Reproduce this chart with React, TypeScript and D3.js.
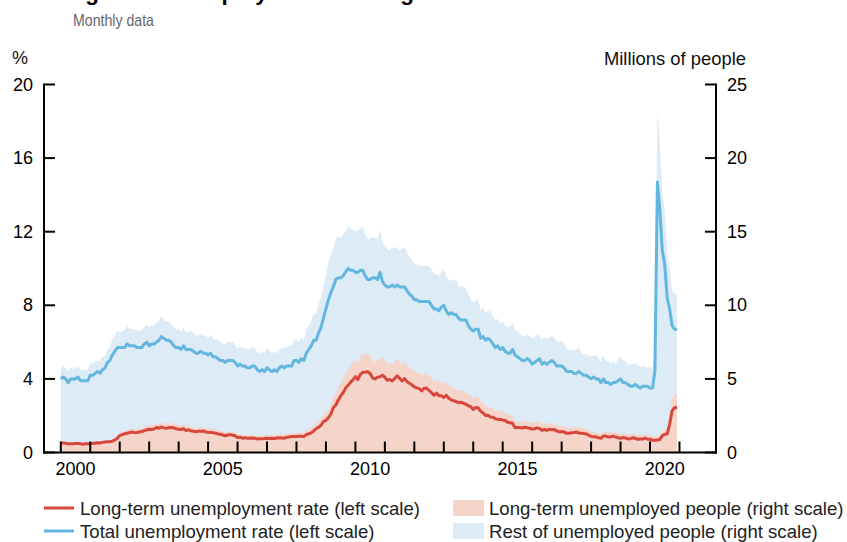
import React from 'react';
import * as d3 from 'd3';

// Monthly data, Jan 2000 – Dec 2020
const START_YEAR = 2000;

// Total unemployment rate, % (left scale)
const unemploymentRate = [
  4.0, 4.1, 4.0, 3.8, 4.0, 4.0, 4.0, 4.1, 3.9, 3.9, 3.9, 3.9,
  4.2, 4.2, 4.3, 4.4, 4.3, 4.5, 4.6, 4.9, 5.0, 5.3, 5.5, 5.7,
  5.7, 5.7, 5.7, 5.9, 5.8, 5.8, 5.8, 5.7, 5.7, 5.7, 5.9, 6.0,
  5.8, 5.9, 5.9, 6.0, 6.1, 6.3, 6.2, 6.1, 6.1, 6.0, 5.8, 5.7,
  5.7, 5.6, 5.8, 5.6, 5.6, 5.6, 5.5, 5.4, 5.4, 5.5, 5.4, 5.4,
  5.3, 5.4, 5.2, 5.2, 5.1, 5.0, 5.0, 4.9, 5.0, 5.0, 5.0, 4.9,
  4.7, 4.8, 4.7, 4.7, 4.6, 4.6, 4.7, 4.7, 4.5, 4.4, 4.5, 4.4,
  4.6, 4.5, 4.4, 4.5, 4.4, 4.6, 4.7, 4.6, 4.7, 4.7, 4.7, 5.0,
  5.0, 4.9, 5.1, 5.0, 5.4, 5.6, 5.8, 6.1, 6.1, 6.5, 6.8, 7.3,
  7.8, 8.3, 8.7, 9.0, 9.4, 9.5, 9.5, 9.6, 9.8, 10.0, 9.9, 9.9,
  9.8, 9.8, 9.9, 9.9, 9.6, 9.4, 9.4, 9.5, 9.5, 9.4, 9.8, 9.3,
  9.1, 9.0, 9.0, 9.1, 9.0, 9.1, 9.0, 9.0, 9.0, 8.8, 8.6, 8.5,
  8.3, 8.3, 8.2, 8.2, 8.2, 8.2, 8.2, 8.0, 7.8, 7.8, 7.7, 7.9,
  8.0, 7.7, 7.5, 7.6, 7.5, 7.5, 7.3, 7.2, 7.2, 7.2, 6.9, 6.7,
  6.6, 6.7, 6.7, 6.2, 6.3, 6.1, 6.2, 6.1, 5.9, 5.7, 5.8, 5.6,
  5.7, 5.5, 5.4, 5.4, 5.6, 5.3, 5.2, 5.1, 5.0, 5.0, 5.1, 5.0,
  4.8, 4.9, 5.0, 5.1, 4.8, 4.9, 4.8, 4.9, 5.0, 4.9, 4.7, 4.7,
  4.7, 4.6, 4.4, 4.4, 4.4, 4.3, 4.3, 4.4, 4.3, 4.2, 4.2, 4.1,
  4.0, 4.1, 4.0, 4.0, 3.8, 4.0, 3.8, 3.8, 3.7, 3.8, 3.8, 3.9,
  4.0, 3.8, 3.8, 3.7, 3.6, 3.6, 3.7, 3.6, 3.5, 3.6, 3.6, 3.6,
  3.5, 3.5, 4.4, 14.7, 13.2, 11.0, 10.2, 8.4, 7.8, 6.9, 6.7, 6.7,
];

// Long-term unemployment rate, % (left scale)
const longTermRate = [
  0.51, 0.51, 0.50, 0.47, 0.48, 0.48, 0.49, 0.49, 0.48, 0.45, 0.47, 0.47,
  0.47, 0.50, 0.50, 0.53, 0.52, 0.55, 0.57, 0.59, 0.58, 0.62, 0.68, 0.77,
  0.92, 0.97, 1.02, 1.05, 1.08, 1.11, 1.08, 1.09, 1.11, 1.14, 1.18, 1.24,
  1.26, 1.25, 1.28, 1.36, 1.32, 1.38, 1.34, 1.31, 1.35, 1.36, 1.34, 1.29,
  1.26, 1.25, 1.29, 1.20, 1.23, 1.18, 1.16, 1.13, 1.15, 1.16, 1.17, 1.12,
  1.10, 1.09, 1.08, 1.05, 1.01, 0.99, 0.95, 0.91, 0.95, 0.97, 0.94, 0.91,
  0.81, 0.83, 0.78, 0.80, 0.78, 0.77, 0.79, 0.77, 0.74, 0.75, 0.75, 0.76,
  0.78, 0.76, 0.78, 0.76, 0.79, 0.80, 0.79, 0.78, 0.83, 0.84, 0.87, 0.87,
  0.87, 0.88, 0.88, 0.87, 0.97, 1.02, 1.06, 1.18, 1.29, 1.37, 1.48, 1.68,
  1.75, 1.89, 2.09, 2.43, 2.58, 2.84, 3.07, 3.25, 3.50, 3.65, 3.81, 3.95,
  4.12, 3.96, 4.23, 4.36, 4.36, 4.39, 4.29, 4.05, 4.00, 4.09, 4.12, 4.20,
  4.09, 3.92, 3.97, 3.89, 4.02, 4.17, 4.03, 3.88, 4.02, 3.85, 3.76, 3.68,
  3.57, 3.51, 3.47, 3.35, 3.49, 3.50, 3.37, 3.25, 3.11, 3.23, 3.09, 3.09,
  2.99, 3.11, 2.95, 2.86, 2.81, 2.77, 2.71, 2.73, 2.68, 2.62, 2.54, 2.49,
  2.34, 2.45, 2.42, 2.25, 2.15, 2.01, 2.03, 1.93, 1.92, 1.83, 1.81, 1.80,
  1.76, 1.74, 1.64, 1.62, 1.59, 1.35, 1.36, 1.36, 1.33, 1.37, 1.35, 1.32,
  1.28, 1.29, 1.34, 1.30, 1.21, 1.25, 1.20, 1.26, 1.24, 1.25, 1.17, 1.12,
  1.14, 1.12, 1.04, 1.04, 1.07, 1.08, 1.11, 1.06, 1.05, 1.03, 1.01, 0.95,
  0.87, 0.86, 0.84, 0.81, 0.77, 0.89, 0.89, 0.84, 0.85, 0.89, 0.84, 0.80,
  0.77, 0.81, 0.79, 0.74, 0.75, 0.80, 0.76, 0.72, 0.73, 0.73, 0.78, 0.72,
  0.72, 0.67, 0.67, 0.68, 0.71, 0.91, 0.99, 1.00, 1.53, 2.27, 2.43, 2.46,
];

// All unemployed people, millions (right scale)
const unemployedMillions = [
  5.71, 5.86, 5.73, 5.48, 5.76, 5.65, 5.75, 5.85, 5.63, 5.53, 5.64, 5.63,
  6.02, 6.09, 6.14, 6.27, 6.23, 6.48, 6.58, 7.04, 7.14, 7.69, 8.00, 8.26,
  8.18, 8.22, 8.30, 8.60, 8.40, 8.39, 8.39, 8.30, 8.25, 8.31, 8.52, 8.64,
  8.52, 8.62, 8.59, 8.84, 8.96, 9.27, 9.01, 8.90, 8.92, 8.73, 8.58, 8.32,
  8.37, 8.17, 8.49, 8.17, 8.21, 8.29, 8.14, 7.99, 7.93, 8.06, 7.93, 7.93,
  7.78, 7.98, 7.74, 7.67, 7.65, 7.52, 7.41, 7.35, 7.55, 7.45, 7.57, 7.28,
  7.06, 7.18, 7.07, 7.12, 6.98, 7.00, 7.18, 7.09, 6.85, 6.73, 6.87, 6.76,
  7.12, 6.93, 6.73, 6.85, 6.77, 6.98, 7.15, 7.07, 7.17, 7.24, 7.24, 7.65,
  7.69, 7.50, 7.82, 7.64, 8.40, 8.58, 8.94, 9.44, 9.49, 10.07, 10.54, 11.29,
  12.06, 12.90, 13.43, 13.85, 14.50, 14.71, 14.60, 14.81, 15.01, 15.35, 15.22, 15.10,
  15.05, 15.11, 15.20, 15.33, 14.85, 14.47, 14.51, 14.65, 14.58, 14.52, 15.08, 14.35,
  14.01, 13.82, 13.74, 13.96, 13.86, 13.96, 13.76, 13.82, 13.95, 13.59, 13.30, 13.09,
  12.80, 12.81, 12.71, 12.65, 12.66, 12.69, 12.66, 12.47, 12.12, 12.12, 12.01, 12.30,
  12.47, 11.95, 11.69, 11.76, 11.65, 11.75, 11.34, 11.28, 11.27, 11.14, 10.79, 10.40,
  10.20, 10.35, 10.38, 9.70, 9.86, 9.46, 9.61, 9.60, 9.26, 8.99, 9.09, 8.72,
  8.90, 8.61, 8.50, 8.53, 8.79, 8.30, 8.25, 8.05, 7.92, 7.93, 7.98, 7.91,
  7.74, 7.85, 8.03, 7.92, 7.63, 7.79, 7.67, 7.85, 7.90, 7.84, 7.50, 7.55,
  7.58, 7.43, 7.04, 6.96, 6.94, 6.95, 7.00, 7.13, 6.79, 6.64, 6.67, 6.63,
  6.53, 6.60, 6.61, 6.40, 6.19, 6.59, 6.21, 6.24, 6.06, 6.14, 6.04, 6.30,
  6.54, 6.26, 6.24, 5.93, 5.99, 5.98, 6.06, 5.98, 5.78, 5.88, 5.81, 5.75,
  5.80, 5.72, 7.19, 23.11, 20.98, 17.70, 16.31, 13.54, 12.54, 11.05, 10.73, 10.74,
];

// Long-term unemployed people, millions (right scale)
const longTermMillions = [
  0.73, 0.73, 0.71, 0.67, 0.69, 0.68, 0.70, 0.70, 0.68, 0.64, 0.67, 0.67,
  0.68, 0.72, 0.73, 0.77, 0.75, 0.80, 0.83, 0.84, 0.83, 0.90, 0.98, 1.11,
  1.33, 1.40, 1.48, 1.52, 1.56, 1.61, 1.57, 1.58, 1.61, 1.65, 1.71, 1.80,
  1.85, 1.84, 1.87, 1.99, 1.93, 2.03, 1.97, 1.93, 1.98, 2.00, 1.96, 1.89,
  1.86, 1.84, 1.90, 1.77, 1.82, 1.73, 1.70, 1.66, 1.70, 1.71, 1.72, 1.65,
  1.64, 1.63, 1.61, 1.56, 1.51, 1.48, 1.42, 1.36, 1.41, 1.45, 1.40, 1.36,
  1.23, 1.25, 1.18, 1.21, 1.18, 1.16, 1.20, 1.16, 1.11, 1.13, 1.13, 1.15,
  1.19, 1.17, 1.19, 1.16, 1.20, 1.22, 1.22, 1.19, 1.27, 1.28, 1.34, 1.33,
  1.34, 1.36, 1.36, 1.35, 1.50, 1.57, 1.64, 1.82, 1.98, 2.12, 2.29, 2.60,
  2.69, 2.91, 3.23, 3.74, 3.98, 4.38, 4.73, 5.00, 5.39, 5.63, 5.87, 6.09,
  6.34, 6.10, 6.50, 6.71, 6.71, 6.76, 6.61, 6.23, 6.16, 6.29, 6.33, 6.46,
  6.28, 6.03, 6.10, 5.98, 6.17, 6.41, 6.19, 5.96, 6.17, 5.91, 5.78, 5.66,
  5.54, 5.44, 5.38, 5.20, 5.41, 5.43, 5.22, 5.04, 4.82, 5.00, 4.79, 4.79,
  4.64, 4.84, 4.58, 4.45, 4.37, 4.30, 4.21, 4.24, 4.16, 4.07, 3.95, 3.87,
  3.65, 3.82, 3.78, 3.51, 3.35, 3.13, 3.17, 3.01, 2.99, 2.86, 2.82, 2.81,
  2.77, 2.74, 2.57, 2.55, 2.50, 2.12, 2.13, 2.14, 2.09, 2.15, 2.12, 2.07,
  2.03, 2.05, 2.14, 2.07, 1.92, 2.00, 1.91, 2.00, 1.98, 1.99, 1.87, 1.78,
  1.83, 1.80, 1.67, 1.66, 1.71, 1.73, 1.78, 1.71, 1.69, 1.65, 1.62, 1.53,
  1.42, 1.39, 1.36, 1.31, 1.24, 1.45, 1.44, 1.37, 1.37, 1.45, 1.36, 1.30,
  1.26, 1.33, 1.29, 1.22, 1.23, 1.31, 1.25, 1.18, 1.20, 1.20, 1.27, 1.19,
  1.18, 1.10, 1.10, 1.06, 1.13, 1.45, 1.58, 1.62, 2.45, 3.65, 3.91, 3.96,
];

const leftTicks = [0, 4, 8, 12, 16, 20];
const rightTicks = [0, 5, 10, 15, 20, 25];
const yearTicks = d3.range(2000, 2022);
const yearLabels = [2000, 2005, 2010, 2015, 2020];

const TITLE = 'Long-term unemployment is rising';
const SUBTITLE = 'Monthly data';
const LEFT_UNIT = '%';
const RIGHT_UNIT = 'Millions of people';

const legendItems = [
  { kind: 'line', color: '#d8473c', label: 'Long-term unemployment rate (left scale)' },
  { kind: 'line', color: '#63b6e0', label: 'Total unemployment rate (left scale)' },
  { kind: 'box', color: '#f5d4ca', label: 'Long-term unemployed people (right scale)' },
  { kind: 'box', color: '#ddebf6', label: 'Rest of unemployed people (right scale)' },
];

const FONT = '"Liberation Sans", Arial, Helvetica, sans-serif';

type Row = { t: number; ur: number; lr: number; un: number; lt: number };

export default function App() {
  const W = 847;
  const H = 542;
  const left = 44;
  const right = 716;
  const top = 84.5;
  const bottom = 452.5;

  const data: Row[] = unemploymentRate.map((v, i) => ({
    t: START_YEAR + i / 12,
    ur: v,
    lr: longTermRate[i],
    un: unemployedMillions[i],
    lt: longTermMillions[i],
  }));

  const x = d3.scaleLinear().domain([1999.43, 2022.24]).range([left, right]);
  const yL = d3.scaleLinear().domain([0, 20]).range([bottom, top]);
  const yR = d3.scaleLinear().domain([0, 25]).range([bottom, top]);

  const totalArea = d3
    .area<Row>()
    .x((d) => x(d.t))
    .y0(yR(0))
    .y1((d) => yR(d.un))(data) as string;
  const ltArea = d3
    .area<Row>()
    .x((d) => x(d.t))
    .y0(yR(0))
    .y1((d) => yR(d.lt))(data) as string;
  const urLine = d3
    .line<Row>()
    .x((d) => x(d.t))
    .y((d) => yL(d.ur))(data) as string;
  const lrLine = d3
    .line<Row>()
    .x((d) => x(d.t))
    .y((d) => yL(d.lr))(data) as string;

  const tickLen = 11;
  const fs = 18;
  const legendFs = 18.6;

  return (
    <svg
      width={W}
      height={H}
      viewBox={`0 0 ${W} ${H}`}
      style={{ position: 'absolute', left: 0, top: 0, background: '#fff' }}
      fontFamily={FONT}
    >
      <rect x={0} y={0} width={W} height={H} fill="#fff" />
      <text x={44} y={0} fontSize={22.5} fontWeight="bold" fill="#000">
        {TITLE}
      </text>
      <text
        x={73}
        y={20}
        fontSize={16.5}
        fill="#666"
        dominantBaseline="central"
        textLength={81}
        lengthAdjust="spacingAndGlyphs"
      >
        {SUBTITLE}
      </text>
      <text x={12} y={58} fontSize={fs} fill="#111" dominantBaseline="central">
        {LEFT_UNIT}
      </text>
      <text x={746} y={58} fontSize={18.4} fill="#111" textAnchor="end" dominantBaseline="central">
        {RIGHT_UNIT}
      </text>

      <path d={totalArea} fill="#ddebf6" />
      <path d={ltArea} fill="#f5d4ca" />
      <path d={lrLine} fill="none" stroke="#d8473c" strokeWidth={3} strokeLinejoin="round" />
      <path d={urLine} fill="none" stroke="#63b6e0" strokeWidth={3} strokeLinejoin="round" />

      {/* axes */}
      <g stroke="#000" strokeWidth={2} fill="none">
        <line x1={left} x2={left} y1={top - 1} y2={bottom + 1} />
        <line x1={right} x2={right} y1={top - 1} y2={bottom + 1} />
        <line x1={left - 1} x2={right + 1} y1={bottom} y2={bottom} />
        {leftTicks.map((t) => (
          <line key={'l' + t} x1={left} x2={left + tickLen} y1={yL(t)} y2={yL(t)} />
        ))}
        {rightTicks.map((t) => (
          <line key={'r' + t} x1={right} x2={right - tickLen} y1={yR(t)} y2={yR(t)} />
        ))}
        {yearTicks.map((t) => (
          <line key={'x' + t} x1={x(t)} x2={x(t)} y1={bottom} y2={bottom - tickLen} />
        ))}
      </g>
      {leftTicks.map((t) => (
        <text key={'lt' + t} x={33} y={yL(t)} fontSize={fs} textAnchor="end" dominantBaseline="central" fill="#000">
          {t}
        </text>
      ))}
      {rightTicks.map((t) => (
        <text key={'rt' + t} x={727} y={yR(t)} fontSize={fs} textAnchor="start" dominantBaseline="central" fill="#000">
          {t}
        </text>
      ))}
      {yearLabels.map((t) => (
        <text key={'yl' + t} x={x(t + 0.5)} y={469} fontSize={fs} textAnchor="middle" dominantBaseline="central" fill="#000">
          {t}
        </text>
      ))}

      {/* legend */}
      {legendItems.map((it, i) => {
        const col = i < 2 ? 0 : 1;
        const row = i % 2;
        const cy = 508 + row * 23;
        const sx = col === 0 ? 44 : 453;
        const tx = col === 0 ? 80 : 489;
        return (
          <g key={it.label}>
            {it.kind === 'line' ? (
              <line x1={sx} x2={sx + 30} y1={cy} y2={cy} stroke={it.color} strokeWidth={3} />
            ) : (
              <rect x={sx} y={cy - 8} width={31} height={16} fill={it.color} />
            )}
            <text x={tx} y={cy} fontSize={legendFs} fill="#222" dominantBaseline="central">
              {it.label}
            </text>
          </g>
        );
      })}
    </svg>
  );
}
